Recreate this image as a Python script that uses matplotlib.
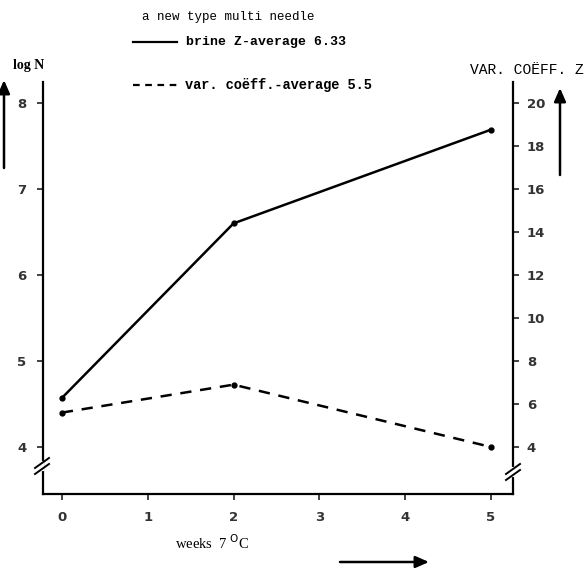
import matplotlib
matplotlib.use("Agg")
import matplotlib.pyplot as plt
from matplotlib.lines import Line2D
from matplotlib.patches import FancyArrowPatch

# ---- data ----
weeks = [0, 2, 5]
log_n = [4.57, 6.6, 7.69]          # brine, left axis (log N)
var_coeff = [5.6, 6.9, 4.0]        # var. coefficient %, right axis
x_ticks = [0, 1, 2, 3, 4, 5]
left_ticks = [4, 5, 6, 7, 8]
right_ticks = [4, 6, 8, 10, 12, 14, 16, 18, 20]

title_txt = "a new type multi needle"
brine_lbl = "brine Z-average 6.33"
var_lbl = "var. coëff.-average 5.5"
left_lbl = "log N"
right_lbl = "VAR. COËFF. Z"
x_lbl = "weeks  7 $^{\\rm O}$C"

W, H = 587, 571
fig = plt.figure(figsize=(W / 100, H / 100), dpi=100)
fig.patch.set_facecolor("white")

def fx(px):
    return px / W

def fy(py):
    return 1 - py / H

L, R, T, B = 43, 513, 82, 494
ax = fig.add_axes([fx(L), fy(B), fx(R) - fx(L), fy(T) - fy(B)])
ax2 = ax.twinx()

ax.plot(weeks, log_n, color="black", lw=1.8, marker="o", ms=3.5, solid_capstyle="round")
ax2.plot(weeks, var_coeff, color="black", lw=1.8, ls=(0, (4.5, 3.5)), marker="o", ms=3.5)

ax.set_xlim(-0.22, 5.256)
ax.set_ylim(3.4535, 8.244)
ax2.set_ylim(4 * 3.4535 - 12, 4 * 8.244 - 12)

ax.set_xticks(x_ticks)
ax.set_yticks(left_ticks)
ax2.set_yticks(right_ticks)

for a in (ax, ax2):
    for s in a.spines.values():
        s.set_linewidth(1.6)
    a.spines["top"].set_visible(False)
ax.spines["right"].set_visible(False)
ax2.spines["left"].set_visible(False)
ax2.spines["bottom"].set_visible(False)

ax.tick_params(axis="both", direction="out", length=4, width=1.2, labelsize=9.5, pad=8, colors="#222222")
ax2.tick_params(axis="y", direction="out", length=4, width=1.2, labelsize=9.5, pad=6, colors="#222222")
for lab in ax.get_xticklabels() + ax.get_yticklabels() + ax2.get_yticklabels():
    lab.set_fontfamily("DejaVu Sans")
    lab.set_fontweight("bold")
    lab.set_color("#333333")

# axis break marks
for (bx, by) in [(42, 466), (513, 472)]:
    fig.add_artist(Line2D([fx(bx), fx(bx)], [fy(by - 3), fy(by + 3)], color="white", lw=3))
    for d in (-3, 3):
        fig.add_artist(Line2D([fx(bx - 7), fx(bx + 7)], [fy(by + d + 5), fy(by + d - 5)],
                              color="black", lw=1.4))

mono = "Liberation Mono"
fig.text(fx(142), fy(17), title_txt, family=mono, fontsize=9, va="center", ha="left")
fig.add_artist(Line2D([fx(133), fx(177)], [fy(42), fy(42)], color="black", lw=1.6))
fig.text(fx(186), fy(42), brine_lbl, family=mono, fontsize=9.5, va="center", ha="left", weight="bold")
fig.add_artist(Line2D([fx(133), fx(177)], [fy(85), fy(85)], color="black", lw=1.6,
                      ls=(0, (3, 2.5))))
fig.text(fx(185), fy(85), var_lbl, family=mono, fontsize=9.8, va="center", ha="left", weight="bold")

fig.text(fx(13), fy(65), left_lbl, family="Liberation Serif", fontsize=10, va="center", ha="left", weight="bold")
fig.text(fx(584), fy(70), right_lbl, family=mono, fontsize=10.5, va="center", ha="right")
fig.text(fx(175), fy(543), x_lbl, family="Liberation Serif", fontsize=10.5, va="center", ha="left")

# direction arrows
arrow_kw = dict(arrowstyle="-|>,head_length=0.8,head_width=0.35", mutation_scale=10,
                color="black", lw=1.8, shrinkA=0, shrinkB=0)
fig.add_artist(FancyArrowPatch((fx(4), fy(168)), (fx(4), fy(80)),
                               transform=fig.transFigure, **arrow_kw))
fig.add_artist(FancyArrowPatch((fx(560), fy(175)), (fx(560), fy(88)),
                               transform=fig.transFigure, **arrow_kw))
fig.add_artist(FancyArrowPatch((fx(340), fy(562)), (fx(429), fy(562)),
                               transform=fig.transFigure, **arrow_kw))

fig.savefig("out.png", dpi=100, facecolor="white")
